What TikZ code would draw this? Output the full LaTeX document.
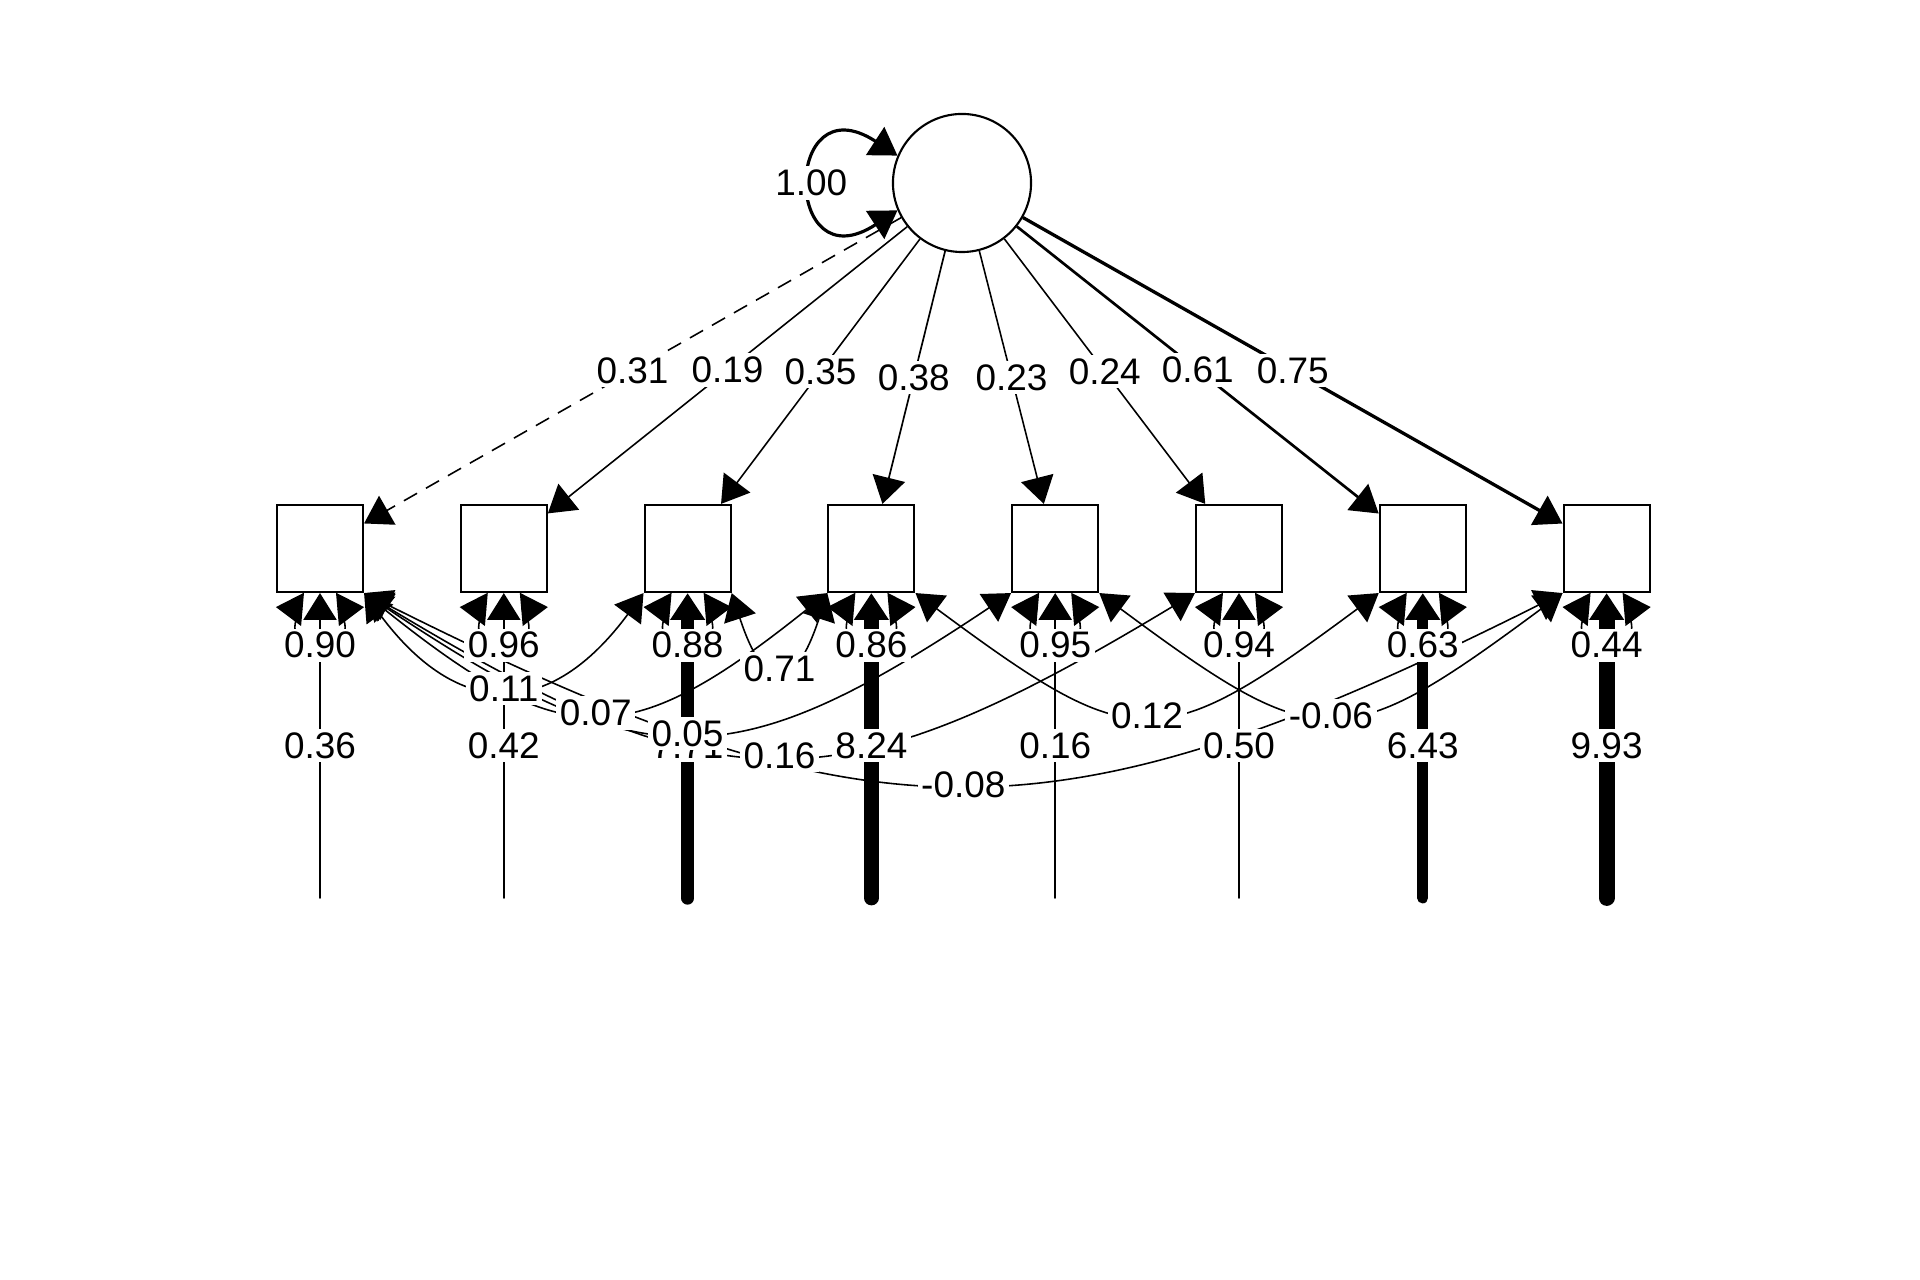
\documentclass[tikz,border=0pt]{standalone}
\usepackage{fontspec}
\setmainfont{Liberation Sans}
\usetikzlibrary{arrows.meta}

\tikzset{
  semtip/.tip={Triangle[length=7.6pt,width=9.4pt]},
  latent/.style={circle, draw, line width=0.6pt, minimum size=1.38cm, inner sep=0pt},
  manifest/.style={rectangle, draw, line width=0.6pt, minimum width=0.86cm, minimum height=0.87cm, inner sep=0pt},
  lbl/.style={fill=white, inner sep=1pt},
  load/.style={-{semtip}, line width=0.45pt},
  covar/.style={{semtip}-{semtip}, line width=0.45pt},
  resvar/.style={{semtip}-{semtip}, line width=0.45pt},
  intercept/.style={-{semtip}, line cap=round}
}

\begin{document}
\begin{tikzpicture}[x=0.01cm, y=-0.01cm, font=\fontsize{10.5pt}{12.6pt}\selectfont]
    \useasboundingbox (0,0) rectangle (1920,1280);
    \node [latent] (lat) at (962,183) {};
    \node [manifest] (v1) at (320,548.5) {};
    \node [manifest] (v2) at (503.8,548.5) {};
    \node [manifest] (v3) at (687.6,548.5) {};
    \node [manifest] (v4) at (871.4,548.5) {};
    \node [manifest] (v5) at (1055.2,548.5) {};
    \node [manifest] (v6) at (1239,548.5) {};
    \node [manifest] (v7) at (1422.8,548.5) {};
    \node [manifest] (v8) at (1606.6,548.5) {};
    \coordinate (i1) at (320,898);
    \coordinate (i2) at (503.8,898);
    \coordinate (i3) at (687.6,898);
    \coordinate (i4) at (871.4,898);
    \coordinate (i5) at (1055.2,898);
    \coordinate (i6) at (1239,898);
    \coordinate (i7) at (1422.8,898);
    \coordinate (i8) at (1606.6,898);
    % loadings
    \draw [load, dash pattern=on 4.3pt off 2.9pt] (lat) -- (v1) node [lbl, midway] {0.31};
    \draw [load] (lat) -- (v2) node [lbl, midway] {0.19};
    \draw [load] (lat) -- (v3) node [lbl, midway] {0.35};
    \draw [load, line width=0.48pt] (lat) -- (v4) node [lbl, midway] {0.38};
    \draw [load] (lat) -- (v5) node [lbl, midway] {0.23};
    \draw [load] (lat) -- (v6) node [lbl, midway] {0.24};
    \draw [load, line width=0.76pt] (lat) -- (v7) node [lbl, midway] {0.61};
    \draw [load, line width=0.94pt] (lat) -- (v8) node [lbl, midway] {0.75};
    \draw [{semtip}-{semtip}, line width=0.9pt] (lat.157) .. controls +(-115,-75) and +(-115,75) .. (lat.203) node [lbl, midway] {1.00};
    % covariances
    \draw [covar] (v1.south east) .. controls +(510,255) and +(-510,255) .. (v8.south west) coordinate [midway] (c18);
    \draw [covar] (v1.south east) .. controls +(360,217) and +(-360,217) .. (v6.south west) coordinate [midway] (c16);
    \draw [covar] (v1.south east) .. controls +(280,187) and +(-280,187) .. (v5.south west) coordinate [midway] (c15);
    \draw [covar] (v1.south east) .. controls +(200,160) and +(-200,160) .. (v4.south west) coordinate [midway] (c14);
    \draw [covar] (v1.south east) .. controls +(94,127) and +(-94,127) .. (v3.south west) coordinate [midway] (c13);
    \draw [covar] (v3.south east) .. controls +(33,101) and +(-33,101) .. (v4.south west) coordinate [midway] (c34);
    \draw [covar] (v4.south east) .. controls +(220,163) and +(-220,163) .. (v7.south west) coordinate [midway] (c47);
    \draw [covar] (v5.south east) .. controls +(220,163) and +(-220,163) .. (v8.south west) coordinate [midway] (c58);
    % intercepts
    \draw [intercept, line width=0.45pt] (i1) -- (v1) node [lbl, midway] {0.36};
    \draw [intercept, line width=0.45pt] (i2) -- (v2) node [lbl, midway] {0.42};
    \draw [intercept, line width=3.8pt] (i3) -- (v3) node [lbl, midway] {7.71};
    \draw [intercept, line width=4.2pt] (i4) -- (v4) node [lbl, midway] {8.24};
    \draw [intercept, line width=0.45pt] (i5) -- (v5) node [lbl, midway] {0.16};
    \draw [intercept, line width=0.45pt] (i6) -- (v6) node [lbl, midway] {0.50};
    \draw [intercept, line width=3.1pt] (i7) -- (v7) node [lbl, midway] {6.43};
    \draw [intercept, line width=4.5pt] (i8) -- (v8) node [lbl, midway] {9.93};
    % residual variances
    \draw [resvar] ([yshift=-1.4mm]v1.south west) .. controls +(23,2) and +(-40,0) .. ([yshift=-5.2mm]v1.south) node [lbl] {0.90} .. controls +(40,0) and +(-23,2) .. ([yshift=-1.4mm]v1.south east);
    \draw [resvar] ([yshift=-1.4mm]v2.south west) .. controls +(23,2) and +(-40,0) .. ([yshift=-5.2mm]v2.south) node [lbl] {0.96} .. controls +(40,0) and +(-23,2) .. ([yshift=-1.4mm]v2.south east);
    \draw [resvar] ([yshift=-1.4mm]v3.south west) .. controls +(23,2) and +(-40,0) .. ([yshift=-5.2mm]v3.south) node [lbl] {0.88} .. controls +(40,0) and +(-23,2) .. ([yshift=-1.4mm]v3.south east);
    \draw [resvar] ([yshift=-1.4mm]v4.south west) .. controls +(23,2) and +(-40,0) .. ([yshift=-5.2mm]v4.south) node [lbl] {0.86} .. controls +(40,0) and +(-23,2) .. ([yshift=-1.4mm]v4.south east);
    \draw [resvar] ([yshift=-1.4mm]v5.south west) .. controls +(23,2) and +(-40,0) .. ([yshift=-5.2mm]v5.south) node [lbl] {0.95} .. controls +(40,0) and +(-23,2) .. ([yshift=-1.4mm]v5.south east);
    \draw [resvar] ([yshift=-1.4mm]v6.south west) .. controls +(23,2) and +(-40,0) .. ([yshift=-5.2mm]v6.south) node [lbl] {0.94} .. controls +(40,0) and +(-23,2) .. ([yshift=-1.4mm]v6.south east);
    \draw [resvar] ([yshift=-1.4mm]v7.south west) .. controls +(23,2) and +(-40,0) .. ([yshift=-5.2mm]v7.south) node [lbl] {0.63} .. controls +(40,0) and +(-23,2) .. ([yshift=-1.4mm]v7.south east);
    \draw [resvar] ([yshift=-1.4mm]v8.south west) .. controls +(23,2) and +(-40,0) .. ([yshift=-5.2mm]v8.south) node [lbl] {0.44} .. controls +(40,0) and +(-23,2) .. ([yshift=-1.4mm]v8.south east);
    % covariance labels
    \node [lbl] at (c18) {-0.08};
    \node [lbl] at (c16) {0.16};
    \node [lbl] at (c15) {0.05};
    \node [lbl] at (c14) {0.07};
    \node [lbl] at (c13) {0.11};
    \node [lbl] at (c34) {0.71};
    \node [lbl] at (c47) {0.12};
    \node [lbl] at (c58) {-0.06};
\end{tikzpicture}
\end{document}
